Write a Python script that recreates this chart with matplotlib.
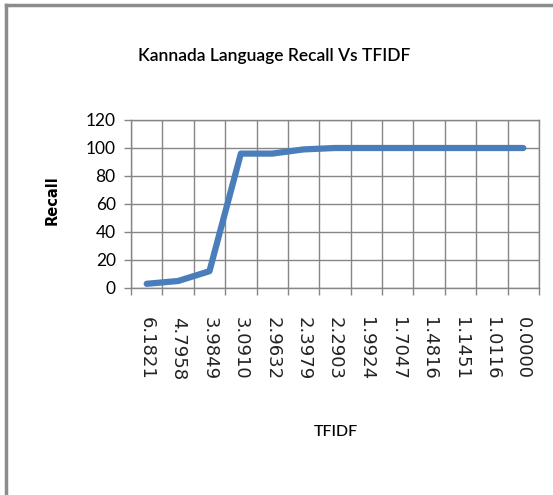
import numpy as np
import matplotlib.pyplot as plt
from matplotlib.lines import Line2D

tfidf = ['6.1821', '4.7958', '3.9849', '3.0910', '2.9632', '2.3979', '2.2903',
         '1.9924', '1.7047', '1.4816', '1.1451', '1.0116', '0.0000']
recall = [3, 5, 12, 96, 96, 99, 100, 100, 100, 100, 100, 100, 100]

narrow = ['Lato', 'DejaVu Sans']

fig = plt.figure(figsize=(5.53, 4.95), dpi=100)
ax = fig.add_axes([131 / 553, 1 - 288 / 495, (539 - 131) / 553, (288 - 120) / 495])

x = np.arange(len(tfidf))
ax.plot(x, recall, color='#4A7EBB', lw=4.5, solid_capstyle='round', zorder=3)

ax.set_xlim(-0.5, len(tfidf) - 0.5)
ax.set_ylim(0, 120)
ax.set_yticks(range(0, 121, 20))
ax.set_xticks(x)
ax.set_xticklabels(tfidf, rotation=-90, fontsize=13, family='DejaVu Sans', color='#222222')
ax.set_xticks(np.arange(-0.5, len(tfidf)), minor=True)
ax.tick_params(axis='x', which='major', length=0, pad=21)
ax.tick_params(axis='x', which='minor', length=5, color='#868686', width=1)
ax.tick_params(axis='y', length=5, color='#868686', width=1, labelsize=12.5, pad=6)
for lab in ax.get_yticklabels():
    lab.set_family(narrow)

ax.grid(True, axis='y', color='#868686', lw=1)
ax.grid(True, axis='x', which='minor', color='#868686', lw=1)
for s in ax.spines.values():
    s.set_color('#868686')
    s.set_linewidth(1)

fig.text(274 / 553, 1 - 56 / 495, 'Kannada Language Recall Vs TFIDF', ha='center', va='center',
         fontsize=12.5, fontweight='semibold', family=narrow)
fig.text(336 / 553, 1 - 432 / 495, 'TFIDF', ha='center', va='center', fontsize=11.5,
         fontweight='medium', family=narrow)
fig.text(52 / 553, 1 - 200 / 495, 'Recall', ha='center', va='center', fontsize=10.5,
         fontweight='bold', rotation=90, family='DejaVu Sans')

# outer frame (top and left edges)
fig.add_artist(Line2D([6 / 553, 6 / 553], [0, 1 - 5 / 495], transform=fig.transFigure,
                      color='#8c8c8c', lw=2.5))
fig.add_artist(Line2D([6 / 553, 1], [1 - 5 / 495, 1 - 5 / 495], transform=fig.transFigure,
                      color='#8c8c8c', lw=2.5))

fig.savefig('out.png', dpi=100)
